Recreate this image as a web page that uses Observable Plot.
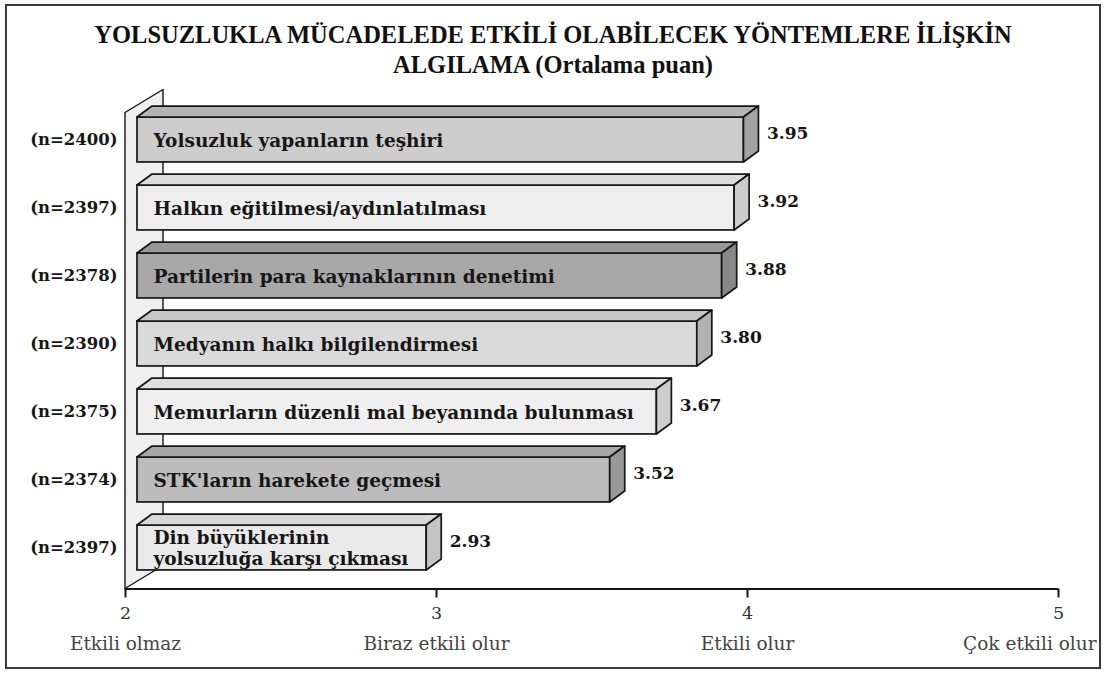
<!DOCTYPE html>
<html><head><meta charset="utf-8">
<script src="https://cdn.jsdelivr.net/npm/d3@7"></script>
<script src="https://cdn.jsdelivr.net/npm/@observablehq/plot@0.6"></script>
<style>
body{margin:0;background:#fff;}
#wrap{position:relative;width:1106px;height:674px;overflow:hidden;background:#fff;}
#chart{position:absolute;left:0;top:0;}
#frame{position:absolute;left:5px;top:4px;width:1092px;height:661px;border:2px solid #3a3a3a;}
#title{position:absolute;left:0;top:20px;width:1106px;text-align:center;font-family:"Liberation Serif",serif;font-weight:bold;font-size:24.5px;line-height:30px;color:#111;}
</style></head><body>
<div id="wrap"><div id="chart"></div><div id="frame"></div>
<div id="title">YOLSUZLUKLA MÜCADELEDE ETKİLİ OLABİLECEK YÖNTEMLERE İLİŞKİN<br>ALGILAMA (Ortalama puan)</div></div>
<script>
const categories = [
  "Yolsuzluk yapanların teşhiri",
  "Halkın eğitilmesi/aydınlatılması",
  "Partilerin para kaynaklarının denetimi",
  "Medyanın halkı bilgilendirmesi",
  "Memurların düzenli mal beyanında bulunması",
  "STK'ların harekete geçmesi",
  "Din büyüklerinin\nyolsuzluğa karşı çıkması"
];
const values = [3.95, 3.92, 3.88, 3.80, 3.67, 3.52, 2.93];
const counts = ["(n=2400)", "(n=2397)", "(n=2378)", "(n=2390)", "(n=2375)", "(n=2374)", "(n=2397)"];
const ticks = [2, 3, 4, 5];
const tickNames = ["Etkili olmaz", "Biraz etkili olur", "Etkili olur", "Çok etkili olur"];

// styles
const frontFill = ["#cdcdcd", "#eeeeee", "#a8a8a8", "#dadada", "#efefef", "#bcbcbc", "#e9e9e9"];
const topFill   = ["#b4b4b4", "#dddddd", "#989898", "#c6c6c6", "#dfdfdf", "#a6a6a6", "#d8d8d8"];
const sideFill  = ["#a2a2a2", "#cccccc", "#888888", "#b2b2b2", "#cdcdcd", "#989898", "#c4c4c4"];

const W = 1106, H = 674, mL = 125, mR = 48, mT = 112.5, mB = 85.5;
const n = categories.length;
const kx = (ticks[ticks.length-1] - ticks[0]) / (W - mL - mR); // data units per px
const ky = n / (H - mT - mB);
const half = 0.33;          // half bar thickness (rows)
const BDX = 15, BDY = 11;   // bar depth px
const OX = 12, OY = 7;      // bar offset from front plane px
const WDX = 38, WDY = 23;   // wall depth px
const x0 = ticks[0];

const rows = categories.map((c, i) => ({i, c, v: values[i], n: counts[i]}));
const topPts = rows.flatMap(d => [
  {z: d.i, y: d.i - half, x1: x0, x2: d.v},
  {z: d.i, y: d.i - half - BDY * ky, x1: x0 + BDX * kx, x2: d.v + BDX * kx}
]);
const sidePts = rows.flatMap(d => [
  {z: d.i, x: d.v, y1: d.i - half, y2: d.i + half},
  {z: d.i, x: d.v + BDX * kx, y1: d.i - half - BDY * ky, y2: d.i + half - BDY * ky}
]);
const wall = [
  {x: x0, y1: -0.5, y2: n - 0.5},
  {x: x0 + WDX * kx, y1: -0.5 - WDY * ky, y2: n - 0.5 - WDY * ky}
];
const ink = "#161616";

const chart = Plot.plot({
  width: W, height: H,
  marginLeft: mL, marginRight: mR, marginTop: mT, marginBottom: mB,
  x: {domain: [ticks[0], ticks[ticks.length-1]], axis: null},
  y: {domain: [-0.5, n - 0.5], reverse: true, axis: null},
  color: {type: "identity"},
  style: {fontFamily: "DejaVu Serif", fontSize: "17px", background: "transparent", color: ink},
  marks: [
    Plot.areaY(wall, {x: "x", y1: "y1", y2: "y2", fill: "#efefef", stroke: ink, strokeWidth: 1.4}),
    Plot.rect(rows, {x1: () => x0, x2: "v", y1: d => d.i - half, y2: d => d.i + half,
      fill: d => frontFill[d.i], stroke: ink, strokeWidth: 1.7, dx: OX, dy: -OY}),
    Plot.areaX(topPts, {y: "y", x1: "x1", x2: "x2", z: "z", fill: d => topFill[d.z],
      stroke: ink, strokeWidth: 1.7, dx: OX, dy: -OY}),
    Plot.areaY(sidePts, {x: "x", y1: "y1", y2: "y2", z: "z", fill: d => sideFill[d.z],
      stroke: ink, strokeWidth: 1.7, dx: OX, dy: -OY}),
    Plot.text(rows, {x: () => x0, y: "i", text: "c", textAnchor: "start", dx: OX + 16, dy: -OY,
      fontWeight: "bold", fontSize: 18.5, fill: ink, lineHeight: 1.15}),
    Plot.text(rows, {x: () => x0, y: "i", text: "n", textAnchor: "end", dx: -8, dy: -OY,
      fontWeight: "bold", fontSize: 16.5, fill: ink}),
    Plot.text(rows, {x: "v", y: "i", text: d => d.v.toFixed(2), textAnchor: "start",
      dx: OX + BDX + 8, dy: -OY - 6, fontWeight: "bold", fontSize: 17, fill: ink}),
    Plot.ruleY([n - 0.5], {stroke: ink, strokeWidth: 2}),
    Plot.axisX({ticks, tickSize: 9, tickPadding: 9, tickFormat: d => String(d),
      stroke: ink, strokeWidth: 2, fontSize: 17.5, fill: "#333"}),
    Plot.text(ticks.slice(0, 3), {x: d => d, text: (d, i) => tickNames[i], frameAnchor: "bottom",
      dy: 61, fontSize: 18.5, fill: "#444"}),
    Plot.text(ticks.slice(3), {x: d => d, text: () => tickNames[3], frameAnchor: "bottom",
      dy: 61, textAnchor: "end", dx: 38, fontSize: 18.5, fill: "#444"})
  ]
});
document.getElementById("chart").appendChild(chart);
</script>
</body></html>
